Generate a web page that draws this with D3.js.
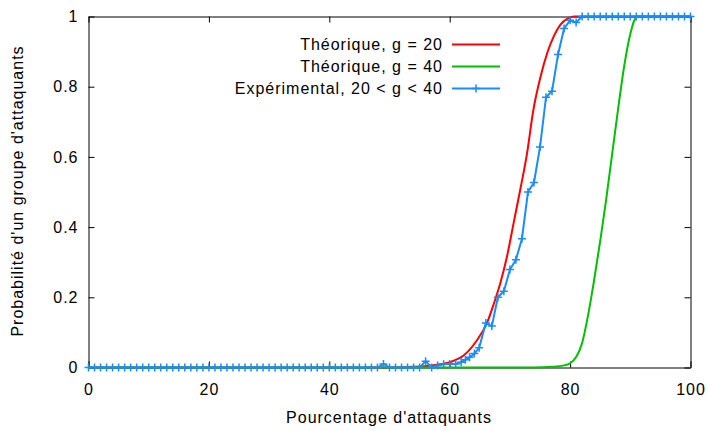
<!DOCTYPE html>
<html>
<head>
<meta charset="utf-8">
<script src="https://cdn.jsdelivr.net/npm/d3@7"></script>
<style>
  body { margin: 0; background: #fff; }
  text { font-family: "Liberation Sans", Arial, sans-serif; font-size: 16px; letter-spacing: 1px; fill: #000; }
</style>
</head>
<body>
<div id="visual"></div>
<script>
// Tick values / labels
const xTicks = [0, 20, 40, 60, 80, 100];
const yTicks = [0, 0.2, 0.4, 0.6, 0.8, 1];
const yTickLabels = ["0", "0.2", "0.4", "0.6", "0.8", "1"];

// Theoretical curve, g = 20
const th20X = [0, 50, 54, 57, 60, 62.3, 64.5, 66.2, 67.3, 68.4, 69.5, 70.6, 71.7, 72.8, 73.9, 75.1, 76.2, 77.3, 78.4, 79.5, 80.6, 100];
const th20Y = [0, 0, 0.002, 0.006, 0.015, 0.034, 0.077, 0.127, 0.18, 0.24, 0.315, 0.41, 0.505, 0.605, 0.734, 0.829, 0.896, 0.944, 0.977, 0.993, 1, 1];

// Theoretical curve, g = 40
const th40X = [0, 74, 77, 79, 80, 81, 82, 83, 84, 85, 86, 87, 88, 89, 90, 90.7, 91.3, 100];
const th40Y = [0, 0, 0.002, 0.006, 0.012, 0.03, 0.07, 0.15, 0.25, 0.36, 0.48, 0.61, 0.74, 0.86, 0.95, 0.99, 1, 1];

// Experimental, 20 < g < 40
const expX = [0, 1, 2, 3, 4, 5, 6, 7, 8, 9, 10, 11, 12, 13, 14, 15, 16, 17, 18, 19, 20,
  21, 22, 23, 24, 25, 26, 27, 28, 29, 30, 31, 32, 33, 34, 35, 36, 37, 38, 39, 40,
  41, 42, 43, 44, 45, 46, 47, 48, 49, 50, 51, 52, 53, 54, 55, 56, 57, 58, 59, 60,
  61, 61.9, 62.6, 63.3, 64.1, 64.9, 66, 67, 68, 69, 70, 71, 72, 73, 74, 75, 76, 77, 78, 79, 80,
  81, 82, 83, 84, 85, 86, 87, 88, 89, 90, 91, 92, 93, 94, 95, 96, 97, 98, 99, 100];
const expY = [0, 0, 0, 0, 0, 0, 0, 0, 0, 0, 0, 0, 0, 0, 0, 0, 0, 0, 0, 0, 0,
  0, 0, 0, 0, 0, 0, 0, 0, 0, 0, 0, 0, 0, 0, 0, 0, 0, 0, 0, 0,
  0, 0, 0, 0, 0, 0, 0, 0, 0.01, 0, 0, 0, 0, 0, 0, 0.018, 0, 0.006, 0.009, 0.01,
  0.01, 0.015, 0.022, 0.029, 0.04, 0.056, 0.127, 0.118, 0.2, 0.217, 0.279, 0.307, 0.367, 0.5, 0.527, 0.628, 0.77, 0.787, 0.892, 0.966, 0.989,
  0.983, 1, 1, 1, 1, 1, 1, 1, 1, 1, 1, 1, 1, 1, 1, 1, 1, 1, 1, 1];

const seriesNames = ["Théorique, g = 20", "Théorique, g = 40", "Expérimental, 20 < g < 40"];
const seriesColors = ["#ff0000", "#00c000", "#1a8cff"];

const W = 708, H = 431;

const svg = d3.select("#visual")
    .append("svg")
    .attr("width", W)
    .attr("height", H);

// Scales
const x = d3.scaleLinear().domain([0, 100]).range([88.5, 690.5]);
const y = d3.scaleLinear().domain([0, 1]).range([367.5, 16.5]);

// Axes (ticks inward, mirrored on top/right)
const axisStyle = g => {
    g.attr("font-family", null).attr("font-size", null);
    g.select(".domain").attr("stroke", "#000").attr("stroke-width", 1);
    g.selectAll(".tick line").attr("stroke", "#000");
};

svg.append("g")
    .attr("transform", `translate(0,${y(0)})`)
    .call(d3.axisBottom(x).tickValues(xTicks).tickSizeInner(-6).tickSizeOuter(0).tickPadding(16))
    .call(axisStyle);

svg.append("g")
    .attr("transform", `translate(0,${y(1)})`)
    .call(d3.axisTop(x).tickValues(xTicks).tickSizeInner(-6).tickSizeOuter(0).tickFormat(""))
    .call(axisStyle);

svg.append("g")
    .attr("transform", `translate(${x(0)},0)`)
    .call(d3.axisLeft(y).tickValues(yTicks).tickSizeInner(-6).tickSizeOuter(0).tickPadding(10)
        .tickFormat((d, i) => yTickLabels[i]))
    .call(axisStyle);

svg.append("g")
    .attr("transform", `translate(${x(100)},0)`)
    .call(d3.axisRight(y).tickValues(yTicks).tickSizeInner(-6).tickSizeOuter(0).tickFormat(""))
    .call(axisStyle);

// Axis titles
svg.append("text")
    .attr("x", 389)
    .attr("y", 423)
    .attr("text-anchor", "middle")
    .text("Pourcentage d'attaquants");

svg.append("text")
    .attr("transform", "translate(23,191) rotate(-90)")
    .attr("text-anchor", "middle")
    .text("Probabilité d'un groupe d'attaquants");

// Curves
const line = d3.line()
    .x(d => x(d[0]))
    .y(d => y(d[1]));

const smooth = d3.line()
    .x(d => x(d[0]))
    .y(d => y(d[1]))
    .curve(d3.curveMonotoneX);

svg.append("path")
    .datum(d3.zip(th20X, th20Y))
    .attr("fill", "none")
    .attr("stroke", seriesColors[0])
    .attr("stroke-width", 2)
    .attr("d", smooth);

svg.append("path")
    .datum(d3.zip(th40X, th40Y))
    .attr("fill", "none")
    .attr("stroke", seriesColors[1])
    .attr("stroke-width", 2)
    .attr("d", smooth);

const expData = d3.zip(expX, expY);

svg.append("path")
    .datum(expData)
    .attr("fill", "none")
    .attr("stroke", seriesColors[2])
    .attr("stroke-width", 2)
    .attr("d", line);

const cross = (cx, cy) => `M${cx - 4},${cy}H${cx + 4}M${cx},${cy - 4}V${cy + 4}`;

svg.append("path")
    .attr("fill", "none")
    .attr("stroke", seriesColors[2])
    .attr("stroke-width", 1.5)
    .attr("d", expData.map(d => cross(x(d[0]), y(d[1]))).join(""));

// Legend
const legend = svg.append("g");
seriesNames.forEach((name, i) => {
    const ly = 44.5 + i * 22;
    legend.append("text")
        .attr("x", 443)
        .attr("y", ly + 5.5)
        .attr("text-anchor", "end")
        .text(name);
    legend.append("line")
        .attr("x1", 452).attr("x2", 500)
        .attr("y1", ly).attr("y2", ly)
        .attr("stroke", seriesColors[i])
        .attr("stroke-width", 2);
    if (i === 2) {
        legend.append("path")
            .attr("fill", "none")
            .attr("stroke", seriesColors[i])
            .attr("stroke-width", 1.5)
            .attr("d", cross(476, ly));
    }
});
</script>
</body>
</html>
